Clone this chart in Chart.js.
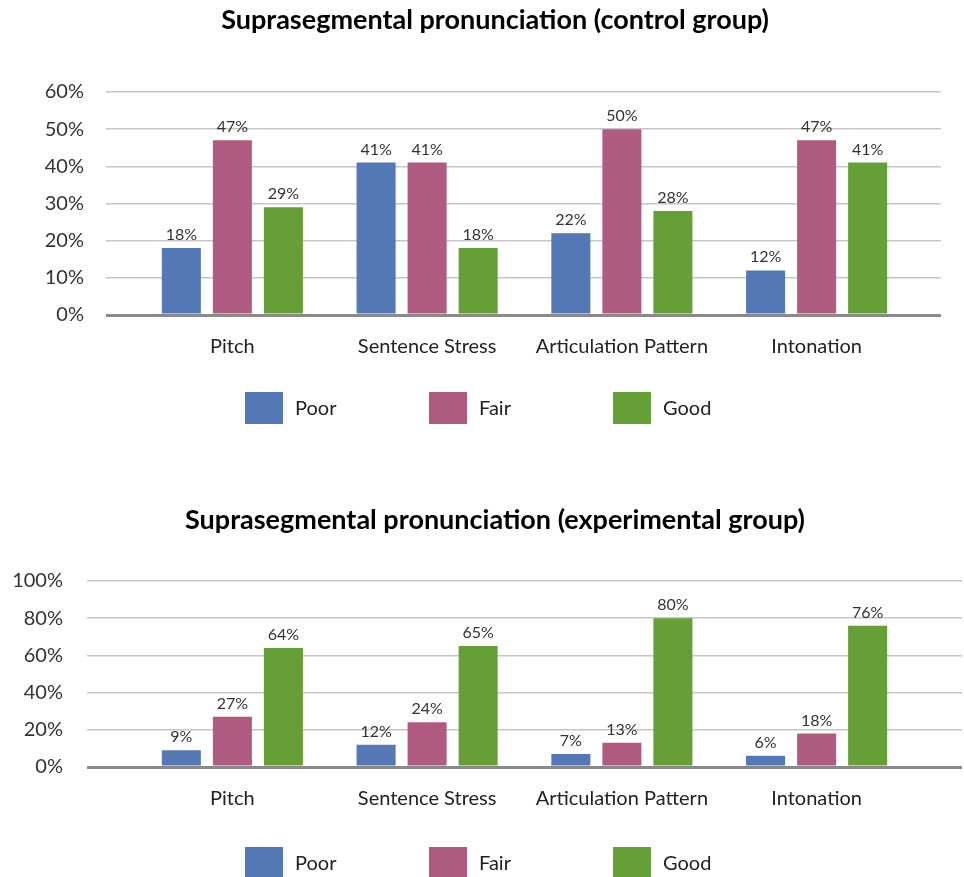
<!DOCTYPE html>
<html>
<head>
<meta charset="utf-8">
<script src="https://cdn.jsdelivr.net/npm/chart.js@4/dist/chart.umd.min.js"></script>
<style>
  html, body { margin: 0; padding: 0; background: #ffffff; }
  .wrap { position: absolute; left: 0; width: 964px; }
  #top { top: 0; height: 450px; }
  #bottom { top: 450px; height: 427px; }
</style>
</head>
<body>
<div class="wrap" id="top"><canvas id="controlChart" width="964" height="450"></canvas></div>
<div class="wrap" id="bottom"><canvas id="experimentalChart" width="964" height="427"></canvas></div>
<script>
// Categories and percentages for each rating level
const categories = ['Pitch', 'Sentence Stress', 'Articulation Pattern', 'Intonation'];
const seriesNames = ['Poor', 'Fair', 'Good'];

const controlPoor = [18, 41, 22, 12];
const controlFair = [47, 41, 50, 47];
const controlGood = [29, 18, 28, 41];

const experimentalPoor = [9, 12, 7, 6];
const experimentalFair = [27, 24, 13, 18];
const experimentalGood = [64, 65, 80, 76];

const controlTicks = { max: 60, step: 10 };
const experimentalTicks = { max: 100, step: 20 };

const colors = ['#5477b5', '#b05b81', '#659f35'];
const FONT = 'Lato, "Open Sans", sans-serif';

// Writes each bar's value above it
const valueLabels = {
  id: 'valueLabels',
  afterDatasetsDraw(chart) {
    const ctx = chart.ctx;
    ctx.save();
    ctx.font = '16px ' + FONT;
    ctx.fillStyle = '#333333';
    ctx.textAlign = 'center';
    ctx.textBaseline = 'alphabetic';
    chart.data.datasets.forEach((ds, di) => {
      const meta = chart.getDatasetMeta(di);
      meta.data.forEach((bar, i) => {
        ctx.fillText(ds.data[i] + '%', bar.x, bar.y - 8);
      });
    });
    ctx.restore();
  }
};

// Evenly spaced swatch legend below the category labels
const swatchLegend = {
  id: 'swatchLegend',
  afterDraw(chart, args, opts) {
    const ctx = chart.ctx;
    const cy = chart.chartArea.bottom + opts.offset;
    ctx.save();
    ctx.font = '20px ' + FONT;
    ctx.textBaseline = 'middle';
    ctx.textAlign = 'left';
    chart.data.datasets.forEach((ds, i) => {
      const x = chart.width / 2 - 237 + i * 184;
      ctx.fillStyle = ds.backgroundColor;
      ctx.fillRect(x, cy - 16, 38, 32);
      ctx.fillStyle = '#222222';
      ctx.fillText(ds.label, x + 50, cy + 1);
    });
    ctx.restore();
  }
};

function gridColor(c) { return c.tick && c.tick.value === 0 ? '#8a8a8a' : '#c6c6c6'; }
function gridWidth(c) { return c.tick && c.tick.value === 0 ? 3 : 1.5; }

// Title sits a little right of the canvas centre, so the layout box is widened on the right
const RIGHT_SHIFT = 26;

function makeChart(canvasId, title, poor, fair, good, ticks, geo) {
  return new Chart(document.getElementById(canvasId), {
    type: 'bar',
    data: {
      labels: categories,
      datasets: [
        { label: seriesNames[0], data: poor, backgroundColor: colors[0] },
        { label: seriesNames[1], data: fair, backgroundColor: colors[1] },
        { label: seriesNames[2], data: good, backgroundColor: colors[2] }
      ]
    },
    options: {
      responsive: false,
      animation: false,
      devicePixelRatio: 1,
      layout: { padding: { left: 0, right: -RIGHT_SHIFT, top: 0, bottom: geo.bottomPad } },
      datasets: { bar: { categoryPercentage: 0.786, barPercentage: 0.765 } },
      plugins: {
        legend: { display: false },
        tooltip: { enabled: false },
        title: {
          display: true,
          text: title,
          color: '#000000',
          font: { family: FONT, size: 27, weight: 'bold', lineHeight: 1.2 },
          padding: { top: geo.titleTop, bottom: geo.titleBottom }
        },
        swatchLegend: { offset: geo.legendOffset }
      },
      scales: {
        x: {
          grid: { display: false, drawTicks: false },
          border: { display: false },
          ticks: { color: '#222222', font: { family: FONT, size: 20 }, padding: 20 },
          afterFit(s) { s.height = 40; }
        },
        y: {
          min: 0, max: ticks.max,
          ticks: {
            stepSize: ticks.step,
            color: '#333333',
            font: { family: FONT, size: 20 },
            padding: geo.labelGap,
            callback: v => v + '%'
          },
          grid: { color: gridColor, lineWidth: gridWidth, tickLength: geo.leftExt, drawTicks: true },
          border: { display: false },
          afterFit(s) { s.width = 135; }
        },
        yRight: {
          position: 'right',
          min: 0, max: ticks.max,
          ticks: { stepSize: ticks.step, display: false },
          grid: { color: gridColor, lineWidth: gridWidth, tickLength: geo.rightExt, drawTicks: true, drawOnChartArea: false },
          border: { display: false },
          afterFit(s) { s.width = 50 + RIGHT_SHIFT; }
        }
      }
    },
    plugins: [valueLabels, swatchLegend]
  });
}

makeChart('controlChart', 'Suprasegmental pronunciation (control group)',
  controlPoor, controlFair, controlGood, controlTicks,
  { titleTop: 4, titleBottom: 55.6, bottomPad: 95, labelGap: 22, leftExt: 29, rightExt: 27, legendOffset: 93 });

makeChart('experimentalChart', 'Suprasegmental pronunciation (experimental group)',
  experimentalPoor, experimentalFair, experimentalGood, experimentalTicks,
  { titleTop: 54, titleBottom: 44.6, bottomPad: 70, labelGap: 24, leftExt: 48, rightExt: 48, legendOffset: 96 });
</script>
</body>
</html>
